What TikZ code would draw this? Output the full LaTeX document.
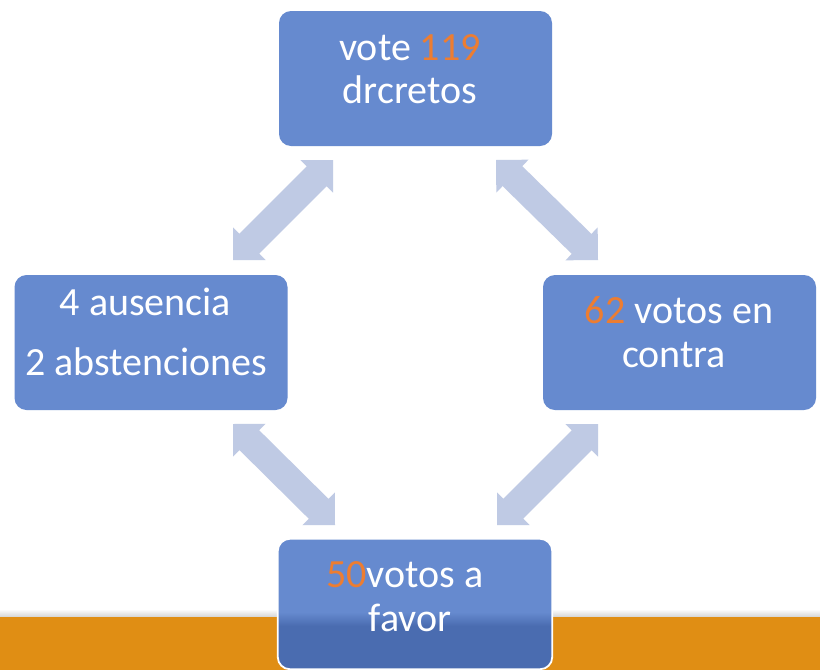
\documentclass[tikz,border=0pt]{standalone}
\usepackage{fontspec}
\setmainfont{Carlito}
\usetikzlibrary{calc}
\definecolor{boxblue}{HTML}{668ACF}
\definecolor{boxdark}{HTML}{4A6CB0}
\definecolor{arrowblue}{HTML}{BFCAE4}
\definecolor{numorange}{HTML}{ED7D31}
\definecolor{bandorange}{HTML}{E08E14}
\tikzset{
  box/.style={draw=none, fill=boxblue, rounded corners=12pt, minimum width=273pt, minimum height=135pt, inner sep=0pt},
  txt/.style={text=white, font=\fontsize{40}{44}\selectfont, inner sep=0pt, anchor=base},
  blockarrow/.style={fill=arrowblue, draw=none}
}
\newcommand\dblblockarrow[2]{%
  \path[blockarrow] (#1)
    -- ($(#1)!23pt!(#2)!23pt!90:(#2)$)
    -- ($(#1)!23pt!(#2)!14pt!90:(#2)$)
    -- ($(#2)!23pt!(#1)!14pt!-90:(#1)$)
    -- ($(#2)!23pt!(#1)!23pt!-90:(#1)$)
    -- (#2)
    -- ($(#2)!23pt!(#1)!23pt!90:(#1)$)
    -- ($(#2)!23pt!(#1)!14pt!90:(#1)$)
    -- ($(#1)!23pt!(#2)!14pt!-90:(#2)$)
    -- ($(#1)!23pt!(#2)!23pt!-90:(#2)$)
    -- cycle;}
\begin{document}
\begin{tikzpicture}[x=1pt,y=-1pt]
\useasboundingbox (0,0) rectangle (820,670);
\fill[white] (0,0) rectangle (820,670);
% orange band with shadow
\shade[top color=white, bottom color=black!17] (0,609) rectangle (820,617);
\fill[bandorange] (0,617) rectangle (820,670);
% boxes
\node[box] (top) at (415.5,78.5) {};
\node[box] (left) at (151,342.5) {};
\node[box] (right) at (679.5,342.5) {};
\node[box, minimum width=274pt, minimum height=130pt] (bot) at (415,604) {};
\begin{scope}
  \clip[rounded corners=12pt] (bot.north west) rectangle (bot.south east);
  \fill[boxdark] (270,625.5) rectangle (560,690);
  \shade[top color=boxblue, bottom color=boxdark] (270,612) rectangle (560,626);
\end{scope}
\draw[white, line width=1.8pt, rounded corners=12pt] (bot.north west) rectangle (bot.south east);
% texts
\node[txt] (t1) at (410,60) {vote \textcolor{numorange}{119}};
\node[txt] (t2) at (410,103) {drcretos};
\node[txt] (l1) at (145.5,315) {4 ausencia};
\node[txt] (l2) at (146.5,375) {2 abstenciones};
\node[txt] (r1) at (679,323) {\textcolor{numorange}{62} votos en};
\node[txt] (r2) at (674,367) {contra};
\node[txt] (b1) at (405,587) {\textcolor{numorange}{50}votos a};
\node[txt] (b2) at (410,631) {favor};
% arrow tips
\coordinate (a1) at (233,260);
\coordinate (a2) at (333,160);
\coordinate (c1) at (496,160);
\coordinate (c2) at (598,260);
\coordinate (e1) at (233,424);
\coordinate (e2) at (335,525);
\coordinate (g1) at (598,424);
\coordinate (g2) at (497,525);
\dblblockarrow{a1}{a2}
\dblblockarrow{c1}{c2}
\dblblockarrow{e1}{e2}
\dblblockarrow{g1}{g2}
\end{tikzpicture}
\end{document}
